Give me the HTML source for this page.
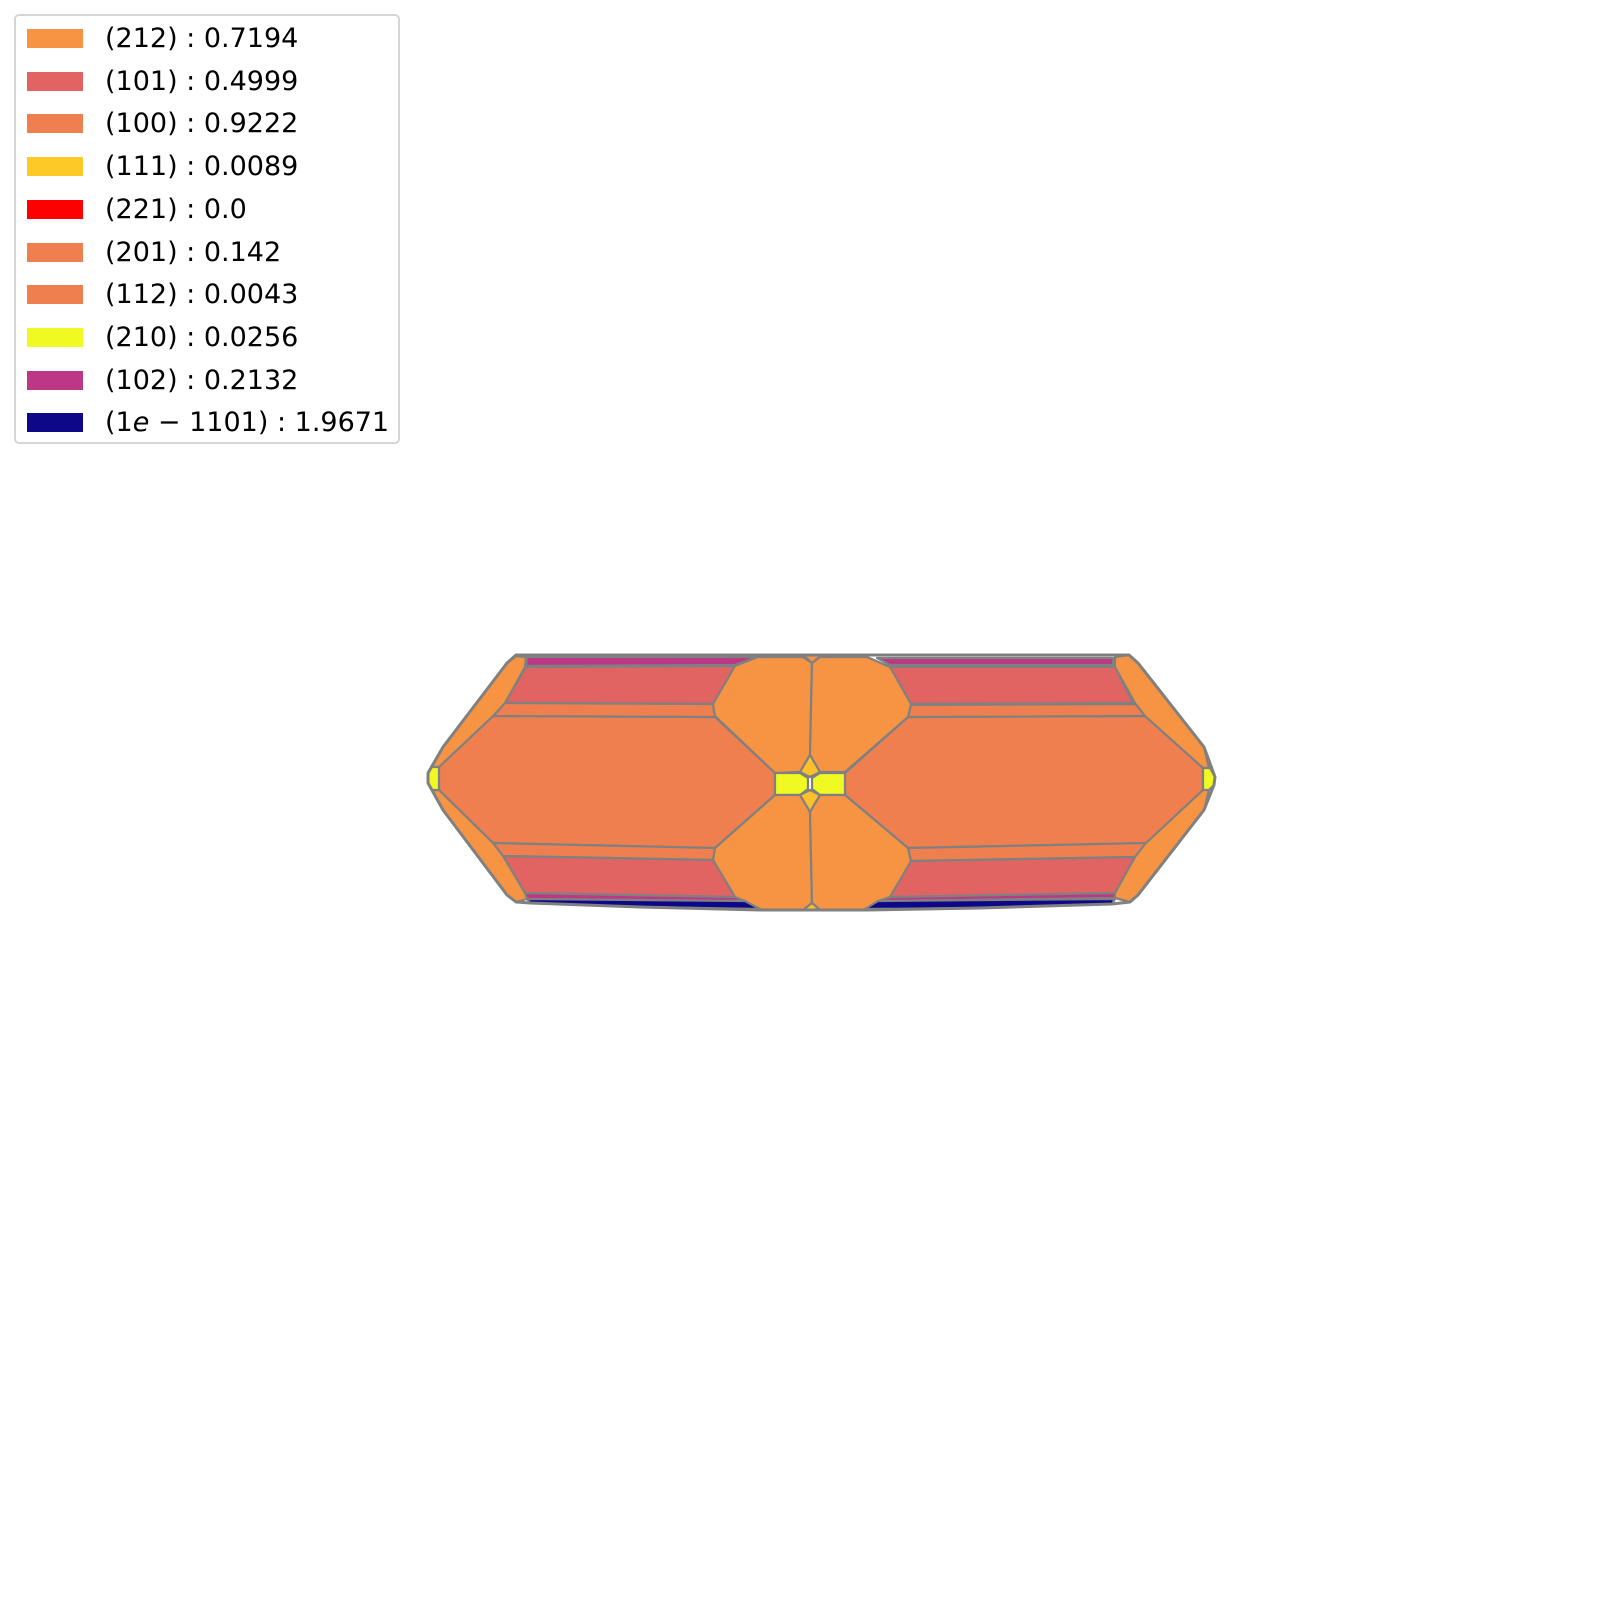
<!DOCTYPE html>
<html><head><meta charset="utf-8"><style>
body{margin:0;background:#fff;width:1600px;height:1600px;overflow:hidden;font-family:"Liberation Sans","DejaVu Sans",sans-serif}
#legend{position:absolute;left:14px;top:14px;width:386px;height:430px;border:2px solid #d5d5d5;border-radius:5px;background:#fff;box-sizing:border-box}
.entry{position:absolute;left:0;height:43px;width:384px}
.patch{position:absolute;left:11px;width:56px;height:19px}
.lbl{position:absolute;left:89px;font-size:27px;line-height:27px;color:#000;white-space:nowrap;font-family:"DejaVu Sans","Liberation Sans",sans-serif}
</style></head><body>
<div id="legend"></div>
<svg id="shape" width="1600" height="1600" style="position:absolute;left:0;top:0"></svg>
<script>
const facetLabels=["(212)","(101)","(100)","(111)","(221)","(201)","(112)","(210)","(102)","(1e − 1101)"];
const facetValues=["0.7194","0.4999","0.9222","0.0089","0.0","0.142","0.0043","0.0256","0.2132","1.9671"];
const facetColors=["#f79443","#e16462","#ef7f4f","#fdc926","#ff0000","#ef7f4f","#ef7f4f","#f0f921","#bd3786","#0d0887"];
const lg=document.getElementById('legend');
facetLabels.forEach((l,i)=>{
  const e=document.createElement('div');e.className='entry';e.style.top=(i*42.7)+'px';
  
  
  const p=document.createElement('div');p.className='patch';p.style.top='13px';p.style.background=facetColors[i];
  
  
  const t=document.createElement('div');t.className='lbl';t.style.top='9px';
  t.innerHTML=(i===9?'(1<i>e</i> − 1101)':l)+' : '+facetValues[i];
  
  
  e.appendChild(p);e.appendChild(t);lg.appendChild(e);
});
const C={a:"#f79443",r:"#e16462",o:"#ef7f4f",d:"#fdc02a",y:"#f0f921",m:"#bd3786",b:"#0d0887"};
const faces=[
["o","493,716 715,717 775,773 775,795 715,848 493,843 439,790 439,767","face-100-left"],
["o","908,717 1147,716 1203,768 1203,790 1147,843 908,848 845,795 845,773","face-100-right"],
["m","527,657 757,657 735,665 526,666","face-102-top-left"],
["m","877,658 1113,658 1113,665 890,665","face-102-top-right"],
["r","526,667 735,666 713,704 505,703","face-101-top-left"],
["r","890,667 1115,667 1133,703 911,704","face-101-top-right"],
["o","505,703 713,704 715,717 493,716","face-201-top-left"],
["o","911,705 1135,704 1147,716 908,717","face-201-top-right"],
["a","803,655 812,663 822,655","face-212-top-tip"],
["a","715,716 713,704 735,666 758,657 803,657 812,663 810,755 800,772 775,773","face-212-ul"],
["a","812,663 820,657 867,657 890,667 911,704 908,717 845,772 820,772 810,755","face-212-ur"],
["d","810,755 820,772 810,777 800,772","face-111-top"],
["y","775,773 800,773 808,778 808,789 800,795 775,795","face-210-cl"],
["y","845,773 820,773 812,778 812,789 820,795 845,795","face-210-cr"],
["d","800,795 810,790 820,795 810,812","face-111-bottom"],
["a","775,795 800,795 810,812 812,903 803,910 760,910 735,897 713,860 715,848","face-212-ll"],
["a","845,795 820,795 810,812 812,903 820,910 867,910 890,899 911,861 908,848","face-212-lr"],
["d","812,903 820,910 803,910","face-111-bottom-tip"],
["o","493,843 715,848 713,860 503,856","face-201-bottom-left"],
["o","908,848 1147,843 1135,857 911,861","face-201-bottom-right"],
["r","503,856 713,860 735,897 525,893","face-101-bottom-left"],
["r","911,861 1135,857 1115,893 890,897","face-101-bottom-right"],
["m","525,893 735,897 745,901 527,899","face-102-bottom-left"],
["m","890,897 1115,893 1115,898 878,901","face-102-bottom-right"],
["b","527,899 745,901 760,909 640,907 530,903","face-blue-left"],
["b","878,901 1115,899 1112,904 980,908 865,909","face-blue-right"],
["a","516,656 526,657 525,667 505,703 493,716 439,767 432,767 443,747 507,663","face-212-left-top"],
["a","439,790 493,843 503,856 525,893 527,899 516,902 507,895 443,810 432,790","face-212-left-bottom"],
["a","1115,657 1129,655 1138,663 1204,747 1209,768 1203,768 1145,716 1135,703 1115,667","face-212-right-top"],
["a","1203,790 1145,844 1135,857 1115,893 1115,898 1130,902 1138,895 1204,810 1209,790","face-212-right-bottom"],
["y","432,767 439,767 439,790 432,790 428,783 428,773","face-210-left-tip"],
["y","1203,768 1210,768 1215,777 1214,785 1209,790 1203,790","face-210-right-tip"]
];
const svg=document.getElementById('shape');const NS='http://www.w3.org/2000/svg';
faces.forEach(f=>{
  const p=document.createElementNS(NS,'polygon');
  p.setAttribute('points',f[1]);p.setAttribute('fill',C[f[0]]);
  p.setAttribute('stroke','#808080');p.setAttribute('stroke-width','2.2');p.setAttribute('stroke-linejoin','round');
  
  
  svg.appendChild(p);
});
const o=document.createElementNS(NS,'polygon');
o.setAttribute('points','516,655 1129,655 1138,663 1204,747 1215,777 1214,785 1204,810 1138,895 1130,902 1112,904 980,908 867,910 760,910 640,907 530,903 516,902 507,895 443,810 428,783 428,773 443,747 507,663');
o.setAttribute('fill','none');o.setAttribute('stroke','#808080');o.setAttribute('stroke-width','3');o.setAttribute('stroke-linejoin','round');


svg.appendChild(o);
</script>
</body></html>
